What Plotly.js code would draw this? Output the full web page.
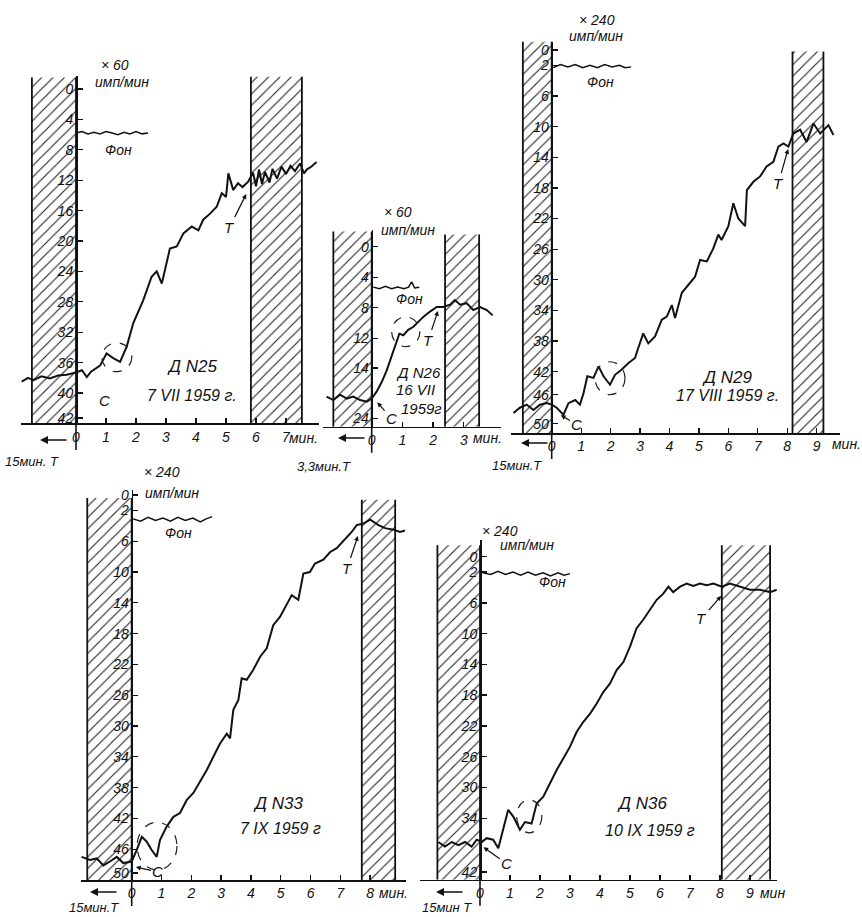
<!DOCTYPE html>
<html><head><meta charset="utf-8">
<script src="https://cdn.plot.ly/plotly-3.0.1.min.js"></script>
<style>html,body{margin:0;padding:0;background:#fff}#c{width:862px;height:917px}</style>
</head><body><div id="c"></div>
<script>
// ---------- DATA ----------
// Д N25, 7 VII 1959
const n25_x = [-1.81,-1.6,-1.42,-1.15,-0.87,-0.6,-0.31,0,0.2,0.36,0.5,0.63,0.8,1.02,1.24,1.47,1.69,1.91,2.24,2.52,2.69,2.86,3.02,3.13,3.36,3.58,3.86,4.08,4.24,4.47,4.69,4.86,5.0,5.08,5.24,5.4,5.55,5.74,5.9,6.0,6.1,6.2,6.3,6.45,6.55,6.7,6.85,7.0,7.15,7.3,7.47,7.6,7.69,7.85,8.02];
const n25_y = [38.5,38.0,38.3,37.8,38.1,37.7,37.6,37.3,37.0,37.9,37.2,36.8,36.4,34.8,35.4,35.9,33.9,30.8,27.8,24.7,24.0,25.6,22.9,21.0,20.7,19.0,18.1,18.6,17.2,16.4,15.5,13.7,14.2,11.1,13.3,12.4,12.9,12.2,11.0,12.8,10.6,12.5,10.9,12.3,10.5,11.8,10.2,11.2,10.1,10.8,9.8,11.1,10.6,10.2,9.6];
const n25_bg_x = [0,0.2,0.4,0.6,0.8,1.0,1.2,1.4,1.6,1.8,2.0,2.2,2.4];
const n25_bg_y = [5.8,5.6,5.9,5.7,5.9,5.6,5.8,6.0,5.7,5.9,5.6,5.9,5.8];
const n25_hatch = [[-1.47,0,-1.5],[5.83,7.53,-1.6]];
const n25_yticks = [0,4,8,12,16,20,24,28,32,36,40,43.3];
const n25_ylabels = ['0','4','8','12','16','20','24','28','32','36','40','42'];
const n25_xticks = [0,1,2,3,4,5,6,7];

// Д N26, 16 VII 1959
const n26_x = [-1.47,-1.25,-1.03,-0.81,-0.6,-0.38,-0.16,0,0.16,0.33,0.49,0.65,0.79,0.9,1.03,1.19,1.36,1.52,1.68,1.9,2.12,2.33,2.55,2.71,2.88,3.09,3.31,3.53,3.75,3.94];
const n26_y = [19.65,20.1,19.4,19.9,19.65,20.1,20.3,19.9,19.0,17.7,16.2,14.4,12.7,11.4,11.6,10.9,10.5,9.8,9.2,8.5,7.9,7.9,7.6,7.0,7.6,7.4,8.3,7.9,8.3,9.0];
const n26_bg_x = [0.05,0.25,0.45,0.65,0.85,1.05,1.2,1.3,1.4,1.55];
const n26_bg_y = [5.3,5.5,5.2,5.5,5.3,5.5,5.3,4.6,5.4,5.3];
const n26_hatch = [[-1.25,0,-2.0],[2.39,3.5,-1.6]];
const n26_yticks = [0,4,8,12,15.9,22.5];
const n26_ylabels = ['0','4','8','12','14','24'];
const n26_xticks = [0,1,2,3];

// Д N29, 17 VIII 1959
const n29_x = [-1.3,-1.08,-0.85,-0.62,-0.4,-0.17,0,0.17,0.4,0.57,0.8,0.96,1.08,1.21,1.42,1.59,1.76,1.98,2.15,2.38,2.6,2.83,2.94,3.11,3.28,3.51,3.74,3.91,4.08,4.19,4.42,4.7,4.87,5.04,5.27,5.49,5.66,5.77,6.0,6.17,6.34,6.57,6.63,6.85,7.08,7.3,7.53,7.7,7.87,8.04,8.21,8.44,8.66,8.89,9.12,9.4,9.57];
const n29_y = [47.4,46.7,46.3,47.0,46.3,46.1,46.3,46.7,47.6,46.1,45.7,46.3,44.8,42.6,42.8,41.3,42.6,43.7,42.4,41.7,40.9,40.2,38.9,37.0,38.3,37.4,35.2,34.8,33.3,35.0,31.7,30.4,29.6,27.4,27.6,25.9,24.1,24.8,23.0,20.0,22.0,23.0,18.3,17.2,16.5,15.2,14.6,12.6,12.2,12.6,10.9,10.4,12.0,9.6,10.9,9.8,11.1];
const n29_bg_x = [0.05,0.3,0.55,0.8,1.05,1.3,1.55,1.8,2.05,2.3,2.5,2.7];
const n29_bg_y = [2.3,1.9,2.2,1.9,2.3,2.0,2.3,1.9,2.2,2.0,2.3,2.2];
const n29_hatch = [[-0.98,0,-1.1],[8.18,9.23,0.2]];
const n29_yticks = [0,2,6,10,14,18,22,26,30,34,38,42,45.0,48.8];
const n29_ylabels = ['0','2','6','10','14','18','22','26','30','34','38','42','46','50'];
const n29_xticks = [0,1,2,3,4,5,6,7,8,9];

// Д N33, 7 IX 1959
const n33_x = [-1.68,-1.4,-1.17,-0.95,-0.73,-0.5,-0.28,0,0.17,0.34,0.5,0.67,0.84,0.95,1.17,1.4,1.62,1.85,2.07,2.29,2.52,2.74,2.96,3.19,3.3,3.41,3.58,3.69,3.86,4.08,4.31,4.53,4.75,4.98,5.2,5.37,5.59,5.76,5.98,6.15,6.43,6.66,6.88,7.16,7.38,7.55,7.77,8.0,8.28,8.5,8.78,9.0,9.17];
const n33_y = [47.0,47.4,47.2,48.1,47.6,47.0,47.8,47.6,46.1,44.4,45.0,46.1,47.0,44.8,43.1,41.8,41.3,39.6,38.7,37.2,35.7,34.0,32.3,31.0,31.6,27.9,26.6,23.8,24.0,22.7,21.0,19.9,16.9,15.8,14.1,13.0,13.6,10.2,10.0,8.9,8.4,7.4,6.9,5.8,4.8,3.9,3.7,3.2,3.9,4.3,4.5,4.8,4.6];
const n33_bg_x = [0.05,0.3,0.55,0.8,1.05,1.3,1.55,1.8,2.05,2.3,2.5,2.7];
const n33_bg_y = [3.1,3.4,2.9,3.3,3.0,3.4,2.9,3.3,3.0,3.5,3.1,2.8];
const n33_hatch = [[-1.49,0,0.4],[7.72,8.84,0.6]];
const n33_yticks = [0,2,6,10,14,18,22,26,30,34,38,42,46,49.1];
const n33_ylabels = ['0','2','6','10','14','18','22','26','30','34','38','42','46','50'];
const n33_xticks = [0,1,2,3,4,5,6,7,8];

// Д N36, 10 IX 1959
const n36_x = [-1.39,-1.17,-0.94,-0.72,-0.5,-0.28,-0.11,0.06,0.22,0.44,0.61,0.78,0.94,1.11,1.33,1.5,1.72,1.89,2.11,2.33,2.56,2.78,3.0,3.22,3.44,3.67,3.89,4.11,4.33,4.56,4.78,5.0,5.22,5.44,5.67,5.89,6.11,6.28,6.44,6.67,6.89,7.11,7.33,7.56,7.78,8.06,8.33,8.67,9.0,9.33,9.67,9.89];
const n36_y = [37.1,37.7,37.1,37.5,37.1,37.7,36.8,37.1,36.6,36.8,37.9,35.5,32.9,33.8,35.5,34.5,34.7,32.1,31.2,29.5,27.7,26.2,24.7,22.8,21.5,20.4,19.1,17.6,16.5,14.7,13.7,11.7,9.3,8.2,6.9,5.6,4.8,3.9,4.6,3.9,3.5,3.8,3.5,3.7,3.5,3.9,3.5,3.9,4.3,4.3,4.6,4.3];
const n36_bg_x = [0.1,0.35,0.6,0.85,1.1,1.35,1.6,1.85,2.1,2.35,2.6,2.8,3.0];
const n36_bg_y = [2.1,2.3,1.9,2.3,2.0,2.4,2.0,2.4,2.1,2.5,2.1,2.4,2.2];
const n36_hatch = [[-1.42,0,-1.5],[8.06,9.67,-1.5]];
const n36_yticks = [0,2,6,10,14,18,22,26,30,34,41.0];
const n36_ylabels = ['0','2','6','10','14','18','22','26','30','34','42'];
const n36_xticks = [0,1,2,3,4,5,6,7,8,9];

// ---------- LAYOUT ----------
const W = 862, H = 917;
const fx = p => p / W, fy = p => 1 - p / H;
const FONT = 'Liberation Sans Narrow, Liberation Sans, DejaVu Sans, sans-serif';
const tfont = {family: FONT, size: 14, color: '#111', style: 'italic'};
const it = s => '<i>' + s + '</i>';

const panels = [
  {x: n25_x, y: n25_y, bx: n25_bg_x, by: n25_bg_y, hatch: n25_hatch, yt: n25_yticks, yl: n25_ylabels, xt: n25_xticks,
   xr: [-1.85, 8.1], yr: [44, -1.7], px: [20.5, 319], py: [76.1, 423.4], ypos: 76, base: 424},
  {x: n26_x, y: n26_y, bx: n26_bg_x, by: n26_bg_y, hatch: n26_hatch, yt: n26_yticks, yl: n26_ylabels, xt: n26_xticks,
   xr: [-1.6, 4.2], yr: [23.6, -2.2], px: [322.6, 500.6], py: [229.9, 426.8], ypos: 371.7, base: 426.8},
  {x: n29_x, y: n29_y, bx: n29_bg_x, by: n29_bg_y, hatch: n29_hatch, yt: n29_yticks, yl: n29_ylabels, xt: n29_xticks,
   xr: [-1.4, 9.8], yr: [50, -1.1], px: [510.5, 840.2], py: [41.6, 433], ypos: 551.7, base: 433},
  {x: n33_x, y: n33_y, bx: n33_bg_x, by: n33_bg_y, hatch: n33_hatch, yt: n33_yticks, yl: n33_ylabels, xt: n33_xticks,
   xr: [-1.7, 9.2], yr: [50, -0.6], px: [81.0, 405.9], py: [490.4, 880], ypos: 131.7, base: 880},
  {x: n36_x, y: n36_y, bx: n36_bg_x, by: n36_bg_y, hatch: n36_hatch, yt: n36_yticks, yl: n36_ylabels, xt: n36_xticks,
   xr: [-2.0, 9.9], yr: [42, -2.2], px: [420, 777], py: [539.8, 879.7], ypos: 480, base: 879.7}
];

const traces = [];
const layout = {
  width: W, height: H, margin: {l: 0, r: 0, t: 0, b: 0},
  paper_bgcolor: '#fff', plot_bgcolor: 'rgba(0,0,0,0)', showlegend: false,
  font: {family: FONT, color: '#111'},
  shapes: [], annotations: []
};

panels.forEach((p, i) => {
  const k = i === 0 ? '' : String(i + 1);
  const xa = 'x' + k, ya = 'y' + k;
  const bottom = p.yr[0];
  // hatched zones
  p.hatch.forEach(h => {
    traces.push({type: 'scatter', mode: 'lines', xaxis: xa, yaxis: ya, hoverinfo: 'skip',
      x: [h[0], h[1], h[1], h[0], h[0]], y: [bottom, bottom, h[2], h[2], bottom],
      fill: 'toself', fillcolor: 'rgba(255,255,255,0)', line: {width: 0, color: 'rgba(0,0,0,0)'},
      fillpattern: {shape: '/', size: 8, solidity: 0.14, fgcolor: '#222', bgcolor: 'rgba(255,255,255,0)'}});
    traces.push({type: 'scatter', mode: 'lines', xaxis: xa, yaxis: ya, hoverinfo: 'skip',
      x: [h[0], h[0], null, h[1], h[1]], y: [bottom, h[2], null, bottom, h[2]],
      line: {width: 1.8, color: '#111'}});
  });
  // background line (Фон)
  traces.push({type: 'scatter', mode: 'lines', xaxis: xa, yaxis: ya, hoverinfo: 'skip',
    x: p.bx, y: p.by, line: {width: 1.5, color: '#111'}});
  // count-rate curve
  traces.push({type: 'scatter', mode: 'lines', xaxis: xa, yaxis: ya, hoverinfo: 'skip',
    x: p.x, y: p.y, line: {width: 2.0, color: '#111'}});

  layout['xaxis' + k] = {
    domain: [fx(p.px[0]), fx(p.px[1])], range: p.xr, anchor: ya,
    showline: true, linewidth: 1.6, linecolor: '#111', mirror: false,
    ticks: 'inside', ticklen: 5, tickwidth: 1.3, tickcolor: '#111',
    tickvals: p.xt, ticktext: p.xt.map(v => it(String(v))), tickfont: tfont,
    showgrid: false, zeroline: false, fixedrange: true
  };
  layout['yaxis' + k] = {
    domain: [fy(p.py[1]), fy(p.py[0])], range: p.yr, anchor: 'free', position: fx(p.ypos),
    showline: true, linewidth: 1.6, linecolor: '#111',
    ticks: 'inside', ticklen: 5, tickwidth: 1.3, tickcolor: '#111',
    tickvals: p.yt, ticktext: p.yl.map(it), tickfont: tfont,
    showgrid: false, zeroline: false, fixedrange: true
  };
  // y axis extension below the baseline
  layout.shapes.push({type: 'line', xref: 'paper', yref: 'paper',
    x0: fx(p.ypos), x1: fx(p.ypos), y0: fy(p.base), y1: fy(p.base + 26),
    line: {width: 1.6, color: '#111'}});
});

// dashed circles (x0,x1,y0,y1 in data units)
const circles = [
  ['', 0.86, 1.86, 33.4, 37.2], ['2', 0.65, 1.57, 9.2, 13.1], ['3', 1.47, 2.49, 40.7, 45.0],
  ['4', 0.18, 1.52, 42.5, 48.7], ['5', 1.22, 2.06, 31.6, 35.9]
];
circles.forEach(c => layout.shapes.push({type: 'circle', xref: 'x' + c[0], yref: 'y' + c[0],
  x0: c[1], x1: c[2], y0: c[3], y1: c[4], line: {width: 1.2, dash: 'dash', color: '#222'}}));

// text labels in pixel positions
const afont = (s) => ({family: FONT, size: s, color: '#111', style: 'italic'});
const txt = (t, x, y, s) => layout.annotations.push({text: it(t), xref: 'paper', yref: 'paper',
  x: fx(x), y: fy(y), showarrow: false, font: afont(s || 14), xanchor: 'center', yanchor: 'middle'});
[
  ['× 60', 115, 65], ['имп/мин', 122, 82], ['Фон', 118, 150], ['Д N25', 192, 367, 17], ['7 VII 1959 г.', 192, 395, 16],
  ['мин.', 303, 438], ['15мин. Т', 32, 462, 13],
  ['× 60', 398, 212], ['имп/мин', 408, 230], ['Фон', 409, 299], ['Д N26', 418, 372, 15], ['16 VII', 415, 389, 15], ['1959г', 421, 408, 15],
  ['мин.', 487, 438], ['3,3мин.T', 324, 466, 13],
  ['× 240', 597, 20], ['имп/мин', 596, 36], ['Фон', 600, 82], ['Д N29', 727, 377, 17], ['17 VIII 1959 г.', 727, 395, 16],
  ['мин.', 846, 444], ['15мин.T', 517, 465, 13],
  ['× 240', 162, 472], ['имп/мин', 172, 493], ['Фон', 178, 533], ['Д N33', 278, 803, 17], ['7 IX 1959 г', 280, 828, 16],
  ['мин.', 393, 893], ['15мин.T', 94, 907, 13],
  ['× 240', 500, 531], ['имп/мин', 527, 545], ['Фон', 552, 582], ['Д N36', 642, 803, 17], ['10 IX 1959 г', 650, 830, 16],
  ['мин', 772, 893], ['15мин T', 447, 907, 13]
].forEach(a => txt(a[0], a[1], a[2], a[3]));

// left-pointing arrows under the axis
[[40, 440], [338, 438], [521, 443], [90, 892], [436, 892]].forEach(a => layout.annotations.push({
  text: '', xref: 'paper', yref: 'paper', x: fx(a[0]), y: fy(a[1]), showarrow: true,
  ax: 28, ay: 0, arrowhead: 2, arrowsize: 1, arrowwidth: 1.6, arrowcolor: '#111'}));

// C and T markers with arrows (x, y in data units, ax, ay offsets in px)
const marks = [
  ['', 'C', 0.19, 38.3, 23, 20], ['', 'T', 5.69, 13.7, -17, 34],
  ['2', 'C', 0.16, 20.3, 15, 17], ['2', 'T', 2.17, 8.3, -10, 30],
  ['3', 'C', 0.28, 47.6, 17, 10], ['3', 'T', 8.04, 12.8, -10, 35],
  ['4', 'C', 0.11, 48.3, 23, 5], ['4', 'T', 7.6, 5.2, -11, 33],
  ['5', 'C', 0.09, 37.7, 24, 17], ['5', 'T', 8.06, 5.0, -20, 23]
];
marks.forEach(m => layout.annotations.push({text: it(m[1]), xref: 'x' + m[0], yref: 'y' + m[0],
  x: m[2], y: m[3], ax: m[4], ay: m[5], showarrow: true, arrowhead: 2, arrowsize: 0.8,
  arrowwidth: 1.2, arrowcolor: '#111', standoff: 1, font: afont(15)}));

Plotly.newPlot('c', traces, layout, {staticPlot: true, displayModeBar: false});
</script>
</body></html>
